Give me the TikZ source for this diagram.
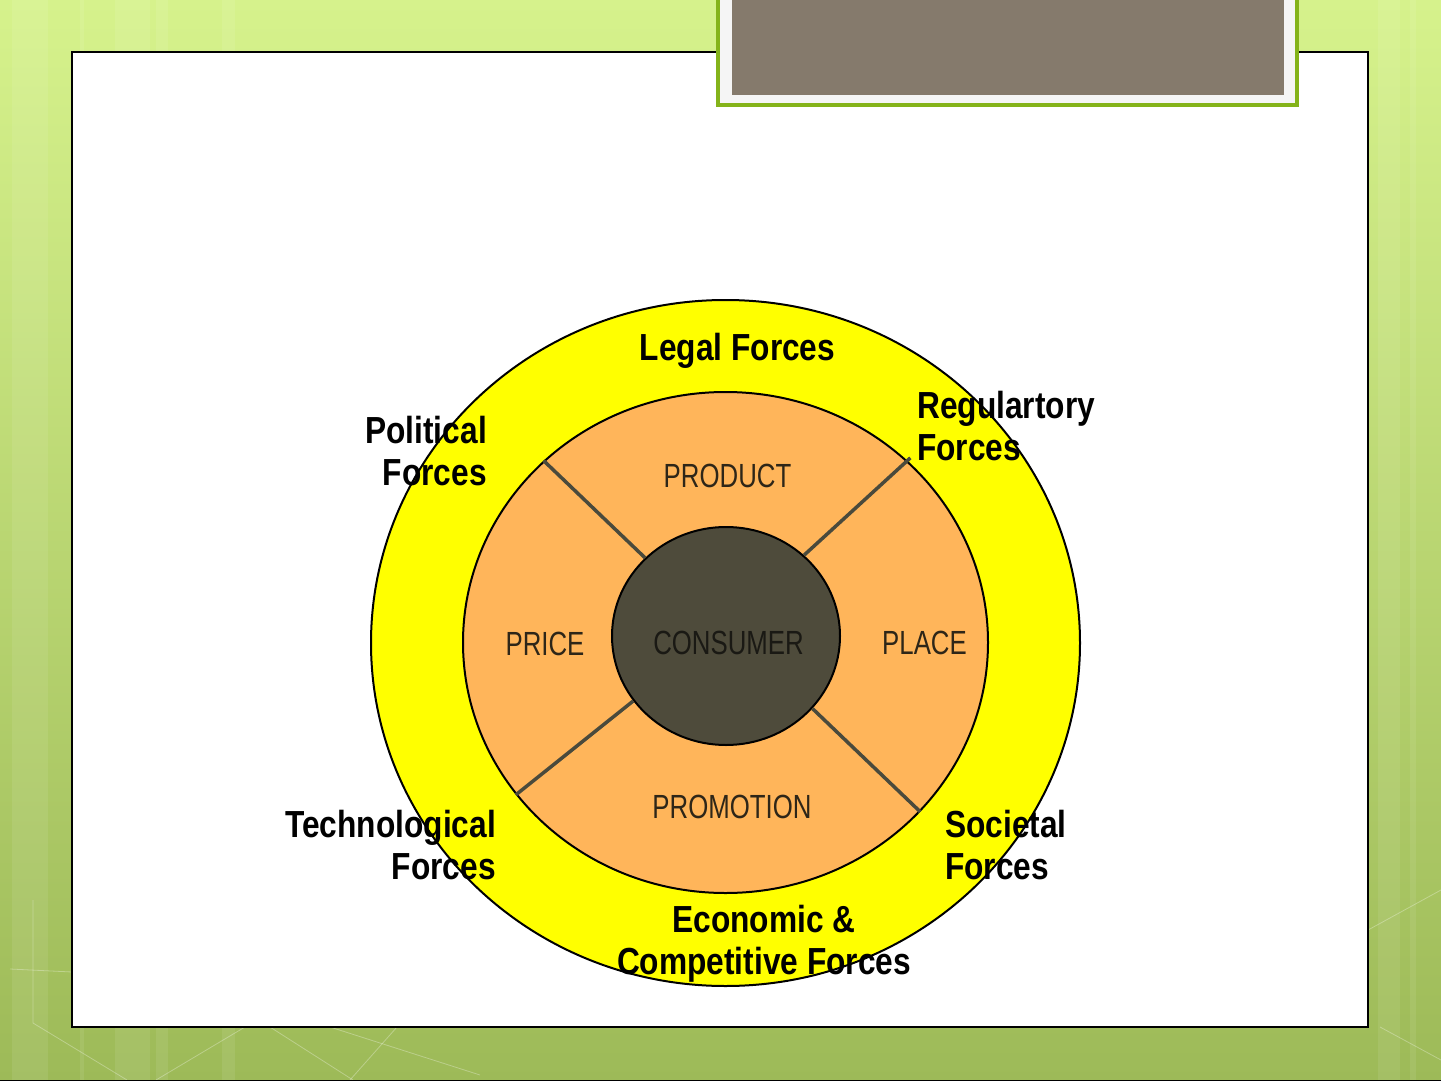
\documentclass[tikz,border=0pt]{standalone}
\usepackage{fontspec}
\usepackage{xcolor}
\usetikzlibrary{shapes.geometric}
\newfontfamily\forcefont[FakeStretch=0.84]{Liberation Sans}
\newfontfamily\mixfont[FakeStretch=0.77]{Liberation Sans}
\definecolor{bgtop}{HTML}{D6F28C}
\definecolor{bgbot}{HTML}{9DBA58}
\definecolor{framegreen}{HTML}{84B31A}
\definecolor{titlebrown}{HTML}{857A6C}
\definecolor{envyellow}{RGB}{255,255,0}
\definecolor{ringorange}{HTML}{FFB55A}
\definecolor{coredark}{HTML}{4E4B3B}
\definecolor{mixtext}{HTML}{2E2618}
\definecolor{coretext}{HTML}{1A1914}
\definecolor{divgray}{HTML}{4A4A3C}

\begin{document}
\begin{tikzpicture}[x=1pt,y=-1pt,
  forcelabel/.style={font=\forcefont\bfseries\fontsize{37.7}{42}\selectfont, inner sep=0pt},
  mixlabel/.style={font=\mixfont\fontsize{33.5}{40}\selectfont, text=mixtext, inner sep=0pt},
  divline/.style={divgray, line width=3.5pt},
  circ/.style={ellipse, draw=black, line width=2pt, inner sep=0pt}]
\useasboundingbox (0,0) rectangle (1441,1081);
% slide background
\shade[top color=bgtop, bottom color=bgbot] (0,0) rectangle (1441,1081);
\foreach \a/\b in {12/48, 80/84, 115/150, 156/168, 222/235, 1378/1400, 1410/1416}
  \fill[white,opacity=0.08] (\a,0) rectangle (\b,1081);
\draw[white,opacity=0.3,line width=0.8pt] (33,900) -- (33,1023) -- (127,1080);
\draw[white,opacity=0.3,line width=0.8pt] (10,969) -- (72,972);
\draw[white,opacity=0.3,line width=0.8pt] (156,1080) -- (245,1027);
\draw[white,opacity=0.3,line width=0.8pt] (270,1027) -- (353,1080);
\draw[white,opacity=0.3,line width=0.8pt] (330,1027) -- (480,1075);
\draw[white,opacity=0.3,line width=0.8pt] (397,1027) -- (350,1080);
\draw[white,opacity=0.3,line width=0.8pt] (1368,930) -- (1441,890);
\draw[white,opacity=0.3,line width=0.8pt] (1380,1027) -- (1441,1060);
\draw[black, line width=1.5pt] (0,1080.5) -- (1441,1080.5);
% white panel
\draw[black, line width=1.5pt, fill=white] (72,52) rectangle (1368,1027);
% title box
\draw[framegreen, line width=4pt, fill=black!4] (718,-10) rectangle (1297,105);
\fill[titlebrown] (732,-10) rectangle (1284,95);
% circles
\node[circ, fill=envyellow, minimum width=709, minimum height=686] (outer) at (725.5,643) {};
\node[circ, fill=ringorange, minimum width=525, minimum height=501] (ring) at (725.5,642.5) {};
\node[circ, fill=coredark, minimum width=228, minimum height=218] (consumer) at (726,636) {};
\draw[divline] (consumer.136) -- (ring.135);
\draw[divline, shorten >=-4pt] (consumer.46) -- (ring.45);
\draw[divline] (consumer.215) -- (ring.216);
\draw[divline] (consumer.320) -- (ring.319);
% marketing mix
\node[mixlabel, anchor=base] (product) at (727.5,487) {PRODUCT};
\node[mixlabel, anchor=base] (price) at (545,655) {PRICE};
\node[mixlabel, anchor=base, text=coretext] (consumertext) at (728.5,654) {CONSUMER};
\node[mixlabel, anchor=base] (place) at (924.5,654) {PLACE};
\node[mixlabel, anchor=base] (promotion) at (732,818) {PROMOTION};
% environmental forces
\node[forcelabel, anchor=base] (legal) at (737.5,360) {Legal Forces};
\node[forcelabel, anchor=east, align=right] (political) at (487,451) {Political\\Forces};
\node[forcelabel, anchor=west, align=left] (regulatory) at (917,426) {Regulartory\\Forces};
\node[forcelabel, anchor=east, align=right] (technological) at (496,845) {Technological\\Forces};
\node[forcelabel, anchor=west, align=left] (societal) at (945,845) {Societal\\Forces};
\node[forcelabel, align=center] (economic) at (764,944) {Economic \&\\Competitive Forces};
\end{tikzpicture}
\end{document}
